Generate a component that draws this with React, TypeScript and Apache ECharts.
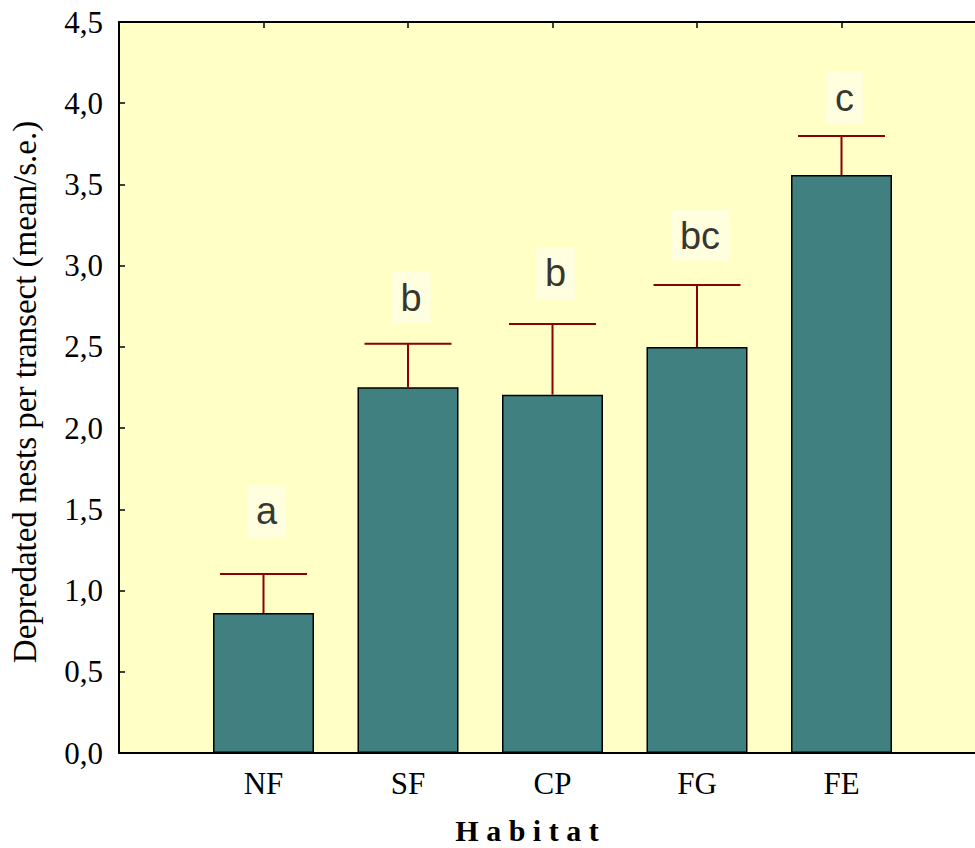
import React, { useEffect, useRef } from "react";
import * as echarts from "echarts";

const categories = ["NF", "SF", "CP", "FG", "FE"];
const means = [0.862, 2.251, 2.206, 2.499, 3.558];
const upper = [1.102, 2.52, 2.641, 2.881, 3.798];
const letters = ["a", "b", "b", "bc", "c"];
const letterLevels = [1.49, 2.804, 2.952, 3.183, 4.032];
const yTicks = { min: 0, max: 4.5, interval: 0.5 };

const SERIF = "'Liberation Serif', 'Times New Roman', serif";
const SANS = "'Liberation Sans', Arial, sans-serif";

export default function App() {
  const ref = useRef<HTMLDivElement>(null);
  useEffect(() => {
    if (!ref.current) return;
    const chart = echarts.init(ref.current, undefined, { renderer: "svg" });
    const xCommon = {
      type: "value",
      min: 0,
      max: categories.length + 1,
      interval: 1,
      splitLine: { show: false },
      axisLine: { show: true, lineStyle: { color: "#000", width: 2 } },
      axisTick: { show: true, inside: true, length: 6, lineStyle: { color: "#000", width: 1.5 } },
    };
    chart.setOption({
      animation: false,
      grid: {
        left: 119,
        top: 22,
        width: 867,
        bottom: 95,
        outerBoundsMode: "none",
        containLabel: false,
        show: true,
        backgroundColor: "#FFFFC6",
        borderWidth: 0,
      },
      xAxis: [
        {
          ...xCommon,
          position: "bottom",
          axisLabel: {
            show: true,
            margin: 15,
            fontFamily: SERIF,
            fontSize: 31,
            color: "#000",
            formatter: (v: number) => categories[v - 1] ?? "",
          },
        },
        {
          ...xCommon,
          position: "top",
          axisLabel: { show: false },
        },
      ],
      yAxis: {
        type: "value",
        min: yTicks.min,
        max: yTicks.max,
        interval: yTicks.interval,
        splitLine: { show: false },
        axisLine: { show: true, lineStyle: { color: "#000", width: 2 } },
        axisTick: { show: true, inside: true, length: 6, lineStyle: { color: "#000", width: 1.5 } },
        axisLabel: {
          margin: 16,
          fontFamily: SERIF,
          fontSize: 31,
          color: "#000",
          formatter: (v: number) => v.toFixed(1).replace(".", ","),
        },
      },
      series: [
        {
          type: "bar",
          data: categories.map((_, i) => [i + 1, means[i]]),
          barWidth: 101,
          itemStyle: { color: "#408080", borderColor: "#000", borderWidth: 1.5 },
          z: 2,
        },
        {
          type: "custom",
          data: categories.map((_, i) => [i + 1, means[i], upper[i]]),
          z: 3,
          renderItem: (params: any, api: any) => {
            const x = api.value(0);
            const p0 = api.coord([x, api.value(1)]);
            const p1 = api.coord([x, api.value(2)]);
            const hw = 43.5;
            const style = { stroke: "#8B0000", lineWidth: 2 };
            return {
              type: "group",
              children: [
                { type: "line", shape: { x1: p0[0], y1: p0[1], x2: p1[0], y2: p1[1] }, style },
                { type: "line", shape: { x1: p1[0] - hw, y1: p1[1], x2: p1[0] + hw, y2: p1[1] }, style },
              ],
            };
          },
        },
        {
          type: "scatter",
          data: categories.map((_, i) => [i + 1, letterLevels[i]]),
          symbolSize: 1,
          itemStyle: { color: "transparent" },
          z: 4,
          label: {
            show: true,
            position: "inside",
            offset: [3, 0],
            formatter: (p: any) => letters[p.dataIndex],
            fontFamily: SANS,
            fontSize: 38,
            lineHeight: 36,
            color: "#000",
            backgroundColor: "#FFFFE6",
            padding: [8, 9],
          },
        },
      ],
      graphic: [
        {
          type: "text",
          x: 527,
          y: 830,
          style: {
            text: "H a b i t a t",
            fontFamily: SERIF,
            fontWeight: "bold",
            fontSize: 30,
            fill: "#000",
            textAlign: "center",
            textVerticalAlign: "middle",
          },
        },
        {
          type: "text",
          x: 25,
          y: 392,
          rotation: Math.PI / 2,
          style: {
            text: "Depredated nests per transect (mean/s.e.)",
            fontFamily: SERIF,
            fontSize: 33,
            fill: "#000",
            textAlign: "center",
            textVerticalAlign: "middle",
          },
        },
      ],
    });
    return () => chart.dispose();
  }, []);
  return (
    <div
      ref={ref}
      style={{ position: "fixed", left: 0, top: 0, width: 975, height: 848, background: "#fff" }}
    />
  );
}
